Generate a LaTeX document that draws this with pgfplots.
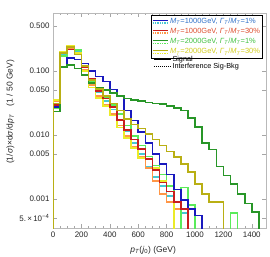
\documentclass[border=0pt]{standalone}
\usepackage{fontspec}
\setmainfont{Liberation Sans}
\usepackage{pgfplots}
\pgfplotsset{compat=1.18}
\definecolor{cblue}{RGB}{25,25,190}
\definecolor{ccyan}{RGB}{70,200,210}
\definecolor{cred}{RGB}{200,30,30}
\definecolor{corange}{RGB}{255,150,70}
\definecolor{cgreen}{RGB}{40,150,40}
\definecolor{clgreen}{RGB}{90,235,90}
\definecolor{colive}{RGB}{185,175,20}
\definecolor{cyellow}{RGB}{235,235,40}
\newcommand{\legimg}[2]{\addlegendimage{legend image code/.code={%
  \draw[#2,densely dotted,line width=1.3bp] (0bp,-1.4bp) -- (15bp,-1.4bp);
  \draw[#1,line width=1.5bp] (0bp,1.3bp) -- (15bp,1.3bp);}}}
\begin{document}
\begin{tikzpicture}
\path[use as bounding box] (-53bp,-29bp) rectangle (217bp,228bp);
\begin{axis}[
  at={(0,0)}, anchor=south west,
  scale only axis, width=213bp, height=215bp,
  xmin=0, xmax=1500, ymode=log, ymin=3.5e-4, ymax=0.8,
  axis line style={gray!55},
  every tick/.style={gray!70},
  tick align=inside,
  major tick length=4bp, minor tick length=2bp,
  xtick={0,200,...,1400},
  xticklabels={0,200,400,600,800,1000,1200,1400},
  minor x tick num=3,
  ytick={0.0005,0.001,0.005,0.01,0.05,0.1,0.5},
  yticklabels={5.\,×\,10\textsuperscript{−4},0.001,0.005,0.010,0.050,0.100,0.500},
  ticklabel style={font=\fontsize{8}{9}\selectfont, text=black!85},
  xlabel={\textit{p}\textsubscript{\textit{T}}(\textit{j}\textsubscript{0}) (GeV)},
  ylabel={(1/\textit{σ})×d\textit{σ}/d\textit{p}\textsubscript{\textit{T}}\quad(1 / 50 GeV)},
  label style={font=\fontsize{8.5}{10}\selectfont, text=black!85},
  xlabel style={at={(axis description cs:0.47,-0.102)}, anchor=center},
  ylabel style={at={(axis description cs:-0.2,0.54)}, anchor=center},
  legend cell align=left,
  legend style={at={(axis description cs:0.986,0.99)}, anchor=north east,
    draw=black, line width=0.8bp, font=\fontsize{7.5}{8}\selectfont,
    inner sep=1bp, nodes={inner sep=1.6bp}},
  const plot mark left, no markers,
  every axis plot/.append style={line width=1.6bp},
]
% interference (light)
\addplot[ccyan,forget plot] coordinates {(0,1e-5)(0,0.031)(50,0.175)(100,0.235)(150,0.205)(200,0.115)(250,0.068)(300,0.046)(350,0.034)(400,0.025)(450,0.017)(500,0.0115)(550,0.0075)(600,0.005)(650,0.0032)(700,0.0022)(750,0.0016)(800,0.0011)(850,0.0009)(900,0.0006)(950,0.0006)(950,1e-5)};
\addplot[corange,forget plot] coordinates {(0,1e-5)(0,0.033)(50,0.19)(100,0.225)(150,0.18)(200,0.105)(250,0.06)(300,0.04)(350,0.029)(400,0.021)(450,0.014)(500,0.0095)(550,0.0065)(600,0.0045)(650,0.003)(700,0.0019)(750,0.0012)(800,0.0009)(850,0.0007)(900,0.0007)(900,1e-5)};
\addplot[clgreen,forget plot] coordinates {(0,1e-5)(0,0.026)(50,0.17)(100,0.235)(150,0.21)(200,0.12)(250,0.07)(300,0.05)(350,0.038)(400,0.029)(450,0.021)(500,0.014)(550,0.0095)(600,0.0068)(650,0.0046)(700,0.0033)(750,0.0024)(800,0.0016)(850,1e-5)(900,0.0015)(950,0.0008)(1000,1e-5)(1250,0.0006)(1300,1e-5)};
\addplot[cyellow,forget plot] coordinates {(0,1e-5)(0,0.035)(50,0.2)(100,0.25)(150,0.19)(200,0.1)(250,0.055)(300,0.038)(350,0.028)(400,0.02)(450,0.013)(500,0.009)(550,0.0062)(600,0.0043)(650,0.0041)(700,0.003)(750,0.0019)(800,0.0013)(850,0.0013)(850,1e-5)};
% signal
\addplot[cblue,forget plot] coordinates {(0,1e-5)(0,0.027)(50,0.115)(100,0.16)(150,0.15)(200,0.13)(250,0.10)(300,0.081)(350,0.068)(400,0.051)(450,0.040)(500,0.024)(550,0.0168)(600,0.011)(650,0.0075)(700,0.005)(750,0.0035)(800,0.0024)(850,0.0014)(900,0.00095)(950,0.0007)(1000,0.00055)(1050,0.00055)(1050,1e-5)};
\addplot[cred,forget plot] coordinates {(0,1e-5)(0,0.029)(50,0.19)(100,0.215)(150,0.18)(200,0.115)(250,0.075)(300,0.048)(350,0.037)(400,0.027)(450,0.017)(500,0.012)(550,0.0085)(600,0.006)(650,0.0042)(700,0.0028)(750,0.0018)(800,0.0013)(850,0.0009)(900,0.0007)(950,0.0007)(950,1e-5)};
\addplot[cgreen,forget plot] coordinates {(0,1e-5)(0,0.023)(50,0.115)(100,0.124)(150,0.108)(200,0.086)(250,0.064)(300,0.055)(350,0.05)(400,0.045)(450,0.04)(500,0.037)(550,0.035)(600,0.034)(650,0.032)(700,0.031)(750,0.030)(800,0.028)(850,0.026)(900,0.024)(950,0.0183)(1000,0.0133)(1050,0.0075)(1100,0.0059)(1150,0.0032)(1200,0.0023)(1250,0.0017)(1300,0.0012)(1350,0.00085)(1400,0.00062)(1450,0.00062)(1450,1e-5)};
\addplot[colive,forget plot] coordinates {(0,1e-5)(0,0.031)(50,0.19)(100,0.235)(150,0.18)(200,0.12)(250,0.072)(300,0.052)(350,0.04)(400,0.031)(450,0.024)(500,0.0178)(550,0.0145)(600,0.0125)(650,0.0103)(700,0.0085)(750,0.0068)(800,0.0055)(850,0.0045)(900,0.0035)(950,0.0026)(1000,0.0017)(1050,0.0012)(1100,0.0009)(1150,0.0009)(1200,0.0009)(1200,1e-5)};
\legimg{cblue}{ccyan}
\addlegendentry{\textcolor{cblue!50!ccyan}{\textit{M}\textsubscript{\textit{T}}=1000GeV, \textit{Γ}\textsubscript{\textit{T}}/\textit{M}\textsubscript{\textit{T}}=1\%}}
\legimg{cred}{corange}
\addlegendentry{\textcolor{cred!60!corange}{\textit{M}\textsubscript{\textit{T}}=1000GeV, \textit{Γ}\textsubscript{\textit{T}}/\textit{M}\textsubscript{\textit{T}}=30\%}}
\legimg{cgreen}{clgreen}
\addlegendentry{\textcolor{cgreen!50!clgreen}{\textit{M}\textsubscript{\textit{T}}=2000GeV, \textit{Γ}\textsubscript{\textit{T}}/\textit{M}\textsubscript{\textit{T}}=1\%}}
\legimg{colive}{cyellow}
\addlegendentry{\textcolor{colive!50!cyellow}{\textit{M}\textsubscript{\textit{T}}=2000GeV, \textit{Γ}\textsubscript{\textit{T}}/\textit{M}\textsubscript{\textit{T}}=30\%}}
\node[anchor=south, font=\fontsize{8.5}{10}\selectfont, text=black!85, inner sep=0pt, yshift=3bp] at (rel axis cs:0.5,1) {pp→\{Z,T\}→httj};
\end{axis}
\begin{axis}[
  at={(0,0)}, anchor=south west,
  scale only axis, width=213bp, height=215bp,
  xmin=0, xmax=1, ymin=0, ymax=1, hide axis,
  legend cell align=left,
  legend style={at={(axis description cs:0.47,0.805)}, anchor=north west,
    draw=none, fill=none, font=\fontsize{7.3}{7.5}\selectfont,
    inner sep=0bp, row sep=-2.5bp, nodes={inner sep=1.2bp}},
]
\addlegendimage{black, line width=1bp}
\addlegendentry{Signal}
\addlegendimage{black, densely dotted, line width=1bp}
\addlegendentry{Interference Sig-Bkg}
\end{axis}
\end{tikzpicture}
\end{document}
